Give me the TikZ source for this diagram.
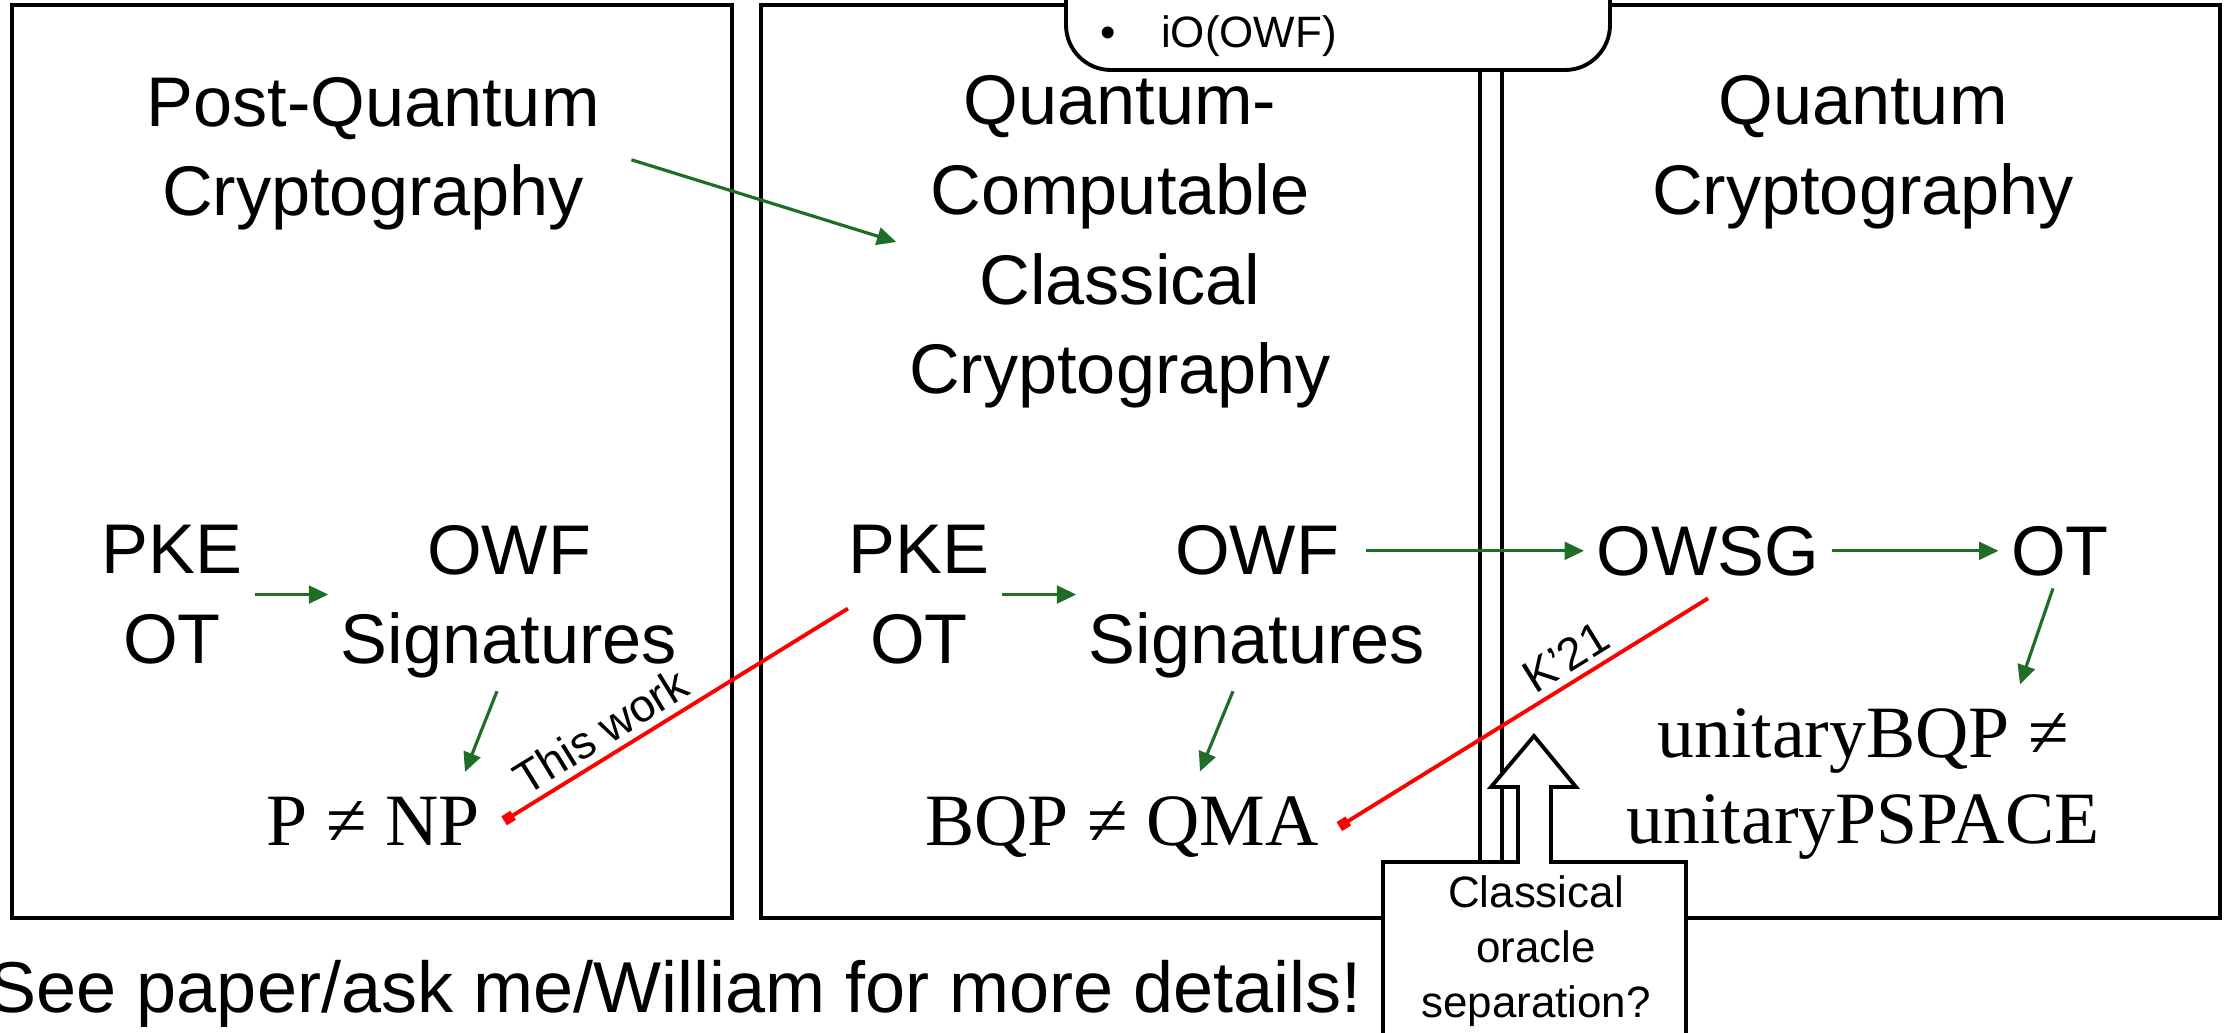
\documentclass[tikz,border=0pt]{standalone}
\usepackage{fontspec}
\setmainfont{Liberation Sans}
\newfontfamily\clsfont{Liberation Serif}
\usepackage{xcolor}
\usetikzlibrary{arrows.meta, calc}

\definecolor{implgreen}{RGB}{30,110,40}
\definecolor{sepred}{RGB}{255,0,0}

\begin{document}
\begin{tikzpicture}[
        panel/.style={rectangle, draw, line width=1.3pt, minimum height=9.13cm, inner sep=0pt},
        title/.style={align=center, anchor=north, inner sep=0.12cm, font=\fontsize{20}{25.5}\selectfont},
        item/.style={align=center, anchor=north, inner sep=0.12cm, font=\fontsize{20}{25.5}\selectfont},
        cls/.style={anchor=base, inner sep=0.12cm, font=\clsfont\fontsize{21}{24.7}\selectfont},
        garrow/.style={-{Triangle[length=5.5pt,width=5pt]}, line width=0.9pt, draw=implgreen},
        rline/.style={-{Square[length=3pt,width=3pt]}, line width=1.1pt, draw=sepred},
        tag/.style={font=\fontsize{13}{16}\selectfont, sloped, above, inner sep=2pt}
    ]
    \useasboundingbox (0,0) rectangle (22.36,-10.33);

    % Panels
    \node[panel, minimum width=7.20cm] (pqbox) at (3.72,-4.615) {};
    \node[panel, minimum width=7.19cm] (qcbox) at (11.205,-4.615) {};
    \node[panel, minimum width=7.18cm] (qbox) at (18.61,-4.615) {};

    % Assumption box (cut off at the top)
    \draw[line width=1.1pt, fill=white, rounded corners=0.45cm] (10.66,0.8) rectangle (16.10,-0.70);
    \node[anchor=base west, inner sep=0pt, font=\fontsize{12.5}{15}\selectfont] (ioowf) at (11.00,-0.47) {\textbullet\hspace{0.45cm}iO(OWF)};

    % Titles
    \node[title] (pqc) at (3.73,-0.645) {Post-Quantum\\Cryptography};
    \node[title] (qccc) at (11.20,-0.63) {Quantum-\\Computable\\Classical\\Cryptography};
    \node[title] (qc) at (18.63,-0.63) {Quantum\\Cryptography};

    % Primitives and separations
    \node[item] (pkeL) at (1.72,-5.125) {PKE\\OT};
    \node[item] (owfL) at (5.09,-5.125) {OWF\\Signatures};
    \node[cls] (pnp) at (3.73,-8.45) {P ≠ NP};

    \node[item] (pkeM) at (9.19,-5.125) {PKE\\OT};
    \node[item] (owfM) at (12.57,-5.125) {OWF\\Signatures};
    \node[cls] (bqp) at (11.22,-8.45) {BQP ≠ QMA};

    \node[item, anchor=base] (owsg) at (17.08,-5.75) {OWSG};
    \node[item, anchor=base] (otR) at (20.60,-5.75) {OT};
    \node[cls, align=center, anchor=north] (unit) at (18.63,-6.955) {unitaryBQP ≠\\unitaryPSPACE};

    % Implications
    \draw[garrow, shorten <=0.2cm] (pqc.east) -- (qccc.west);
    \draw[garrow] (pkeL.east) -- (pkeL.east -| owfL.west);
    \draw[garrow] ([xshift=-0.12cm]owfL.south) -- ([shift={(0.92,0.12)}]pnp.north);
    \draw[garrow] (pkeM.east) -- (pkeM.east -| owfM.west);
    \draw[garrow] ([xshift=-0.24cm]owfM.south) -- ([shift={(0.78,0.12)}]bqp.north);
    \draw[garrow] ($(owsg.west -| owfM.east)+(-0.72,0)$) -- (owsg.west);
    \draw[garrow] (owsg) -- (otR);
    \draw[garrow] ([xshift=-0.07cm]otR.south) -- ([shift={(1.57,0.11)}]unit.north);

    % Separations
    \draw[rline] ([shift={(0.12,-0.14)}]pkeM.west) -- ([xshift=0.12cm]pnp.east) node[tag, pos=0.68] {This work};
    \draw[rline] ([yshift=-0.1cm]owsg.south) -- ([xshift=0.08cm]bqp.east) node[tag, pos=0.35] {K’21};

    % Open question
    \draw[line width=1.1pt, fill=white] (13.83,-11.0) -- (13.83,-8.62) -- (15.18,-8.62) -- (15.18,-7.87) -- (14.91,-7.87) -- (15.34,-7.36) -- (15.76,-7.87) -- (15.51,-7.87) -- (15.51,-8.62) -- (16.86,-8.62) -- (16.86,-11.0) -- cycle;
    \node[align=center, anchor=north, inner sep=0.1cm, font=\fontsize{12.5}{15.6}\selectfont] (oracle) at (15.36,-8.65) {Classical\\oracle\\separation?};

    \node[anchor=base west, inner sep=0pt, font=\fontsize{20.5}{24}\selectfont] (more) at (-0.12,-10.12) {See paper/ask me/William for more details!};

\end{tikzpicture}
\end{document}
